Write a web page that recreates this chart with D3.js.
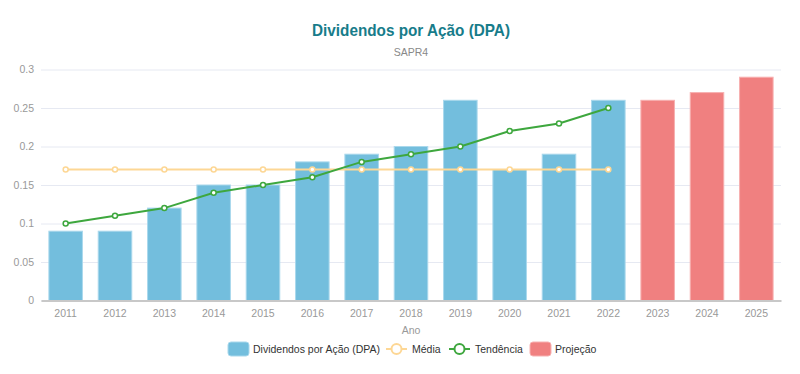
<!DOCTYPE html>
<html>
<head>
<meta charset="utf-8">
<script src="https://cdn.jsdelivr.net/npm/d3@7"></script>
<style>
  body { margin: 0; background: #fff; }
  svg text { font-family: "Liberation Sans", Arial, sans-serif; }
</style>
</head>
<body>
<div id="chart"></div>
<script>
// data
var anos = ["2011","2012","2013","2014","2015","2016","2017","2018","2019","2020","2021","2022","2023","2024","2025"];
var dpa = [0.09, 0.09, 0.12, 0.15, 0.15, 0.18, 0.19, 0.20, 0.26, 0.17, 0.19, 0.26, null, null, null];
var projecao = [null, null, null, null, null, null, null, null, null, null, null, null, 0.26, 0.27, 0.29];
var media = [0.17, 0.17, 0.17, 0.17, 0.17, 0.17, 0.17, 0.17, 0.17, 0.17, 0.17, 0.17];
var tendencia = [0.10, 0.11, 0.12, 0.14, 0.15, 0.16, 0.18, 0.19, 0.20, 0.22, 0.23, 0.25];
var yTicks = [0, 0.05, 0.1, 0.15, 0.2, 0.25, 0.3];

var width = 800, height = 374;
var margin = { top: 70, right: 19, bottom: 73, left: 41 };

var svg = d3.select("#chart").append("svg")
  .attr("width", width)
  .attr("height", height);

var x = d3.scaleBand()
  .domain(anos)
  .range([margin.left, width - margin.right])
  .paddingInner(0.32)
  .paddingOuter(0.16);

var y = d3.scaleLinear()
  .domain([0, 0.3])
  .range([height - margin.bottom - 0.5, margin.top - 0.5]);

// title
svg.append("text")
  .attr("x", 411).attr("y", 36)
  .attr("text-anchor", "middle")
  .attr("textLength", 198).attr("lengthAdjust", "spacingAndGlyphs")
  .style("font-size", "17px").style("font-weight", "bold")
  .style("fill", "#177c8a")
  .text("Dividendos por Ação (DPA)");

svg.append("text")
  .attr("x", 411).attr("y", 56)
  .attr("text-anchor", "middle")
  .style("font-size", "10.5px")
  .style("fill", "#888")
  .text("SAPR4");

// grid + y axis
var yAxis = svg.append("g")
  .attr("transform", "translate(" + margin.left + ",0)")
  .call(d3.axisLeft(y).tickValues(yTicks).tickSize(-(width - margin.left - margin.right)).tickPadding(8).tickFormat(d3.format("")));
yAxis.select(".domain").remove();
yAxis.selectAll(".tick line").attr("stroke", "#e6e9f2");
yAxis.selectAll(".tick text").attr("fill", "#999").style("font-size", "10.5px").attr("x", -7);

// bars
svg.append("g").selectAll("rect")
  .data(anos.filter((d, i) => dpa[i] != null))
  .join("rect")
  .attr("x", d => x(d))
  .attr("y", d => y(dpa[anos.indexOf(d)]))
  .attr("width", x.bandwidth())
  .attr("height", d => y(0) - y(dpa[anos.indexOf(d)]))
  .attr("fill", "#73bedd")
  .attr("stroke", "#a9d8ec")
  .attr("stroke-width", 1);

svg.append("g").selectAll("rect")
  .data(anos.filter((d, i) => projecao[i] != null))
  .join("rect")
  .attr("x", d => x(d))
  .attr("y", d => y(projecao[anos.indexOf(d)]))
  .attr("width", x.bandwidth())
  .attr("height", d => y(0) - y(projecao[anos.indexOf(d)]))
  .attr("fill", "#f08080")
  .attr("stroke", "#f7b0b0")
  .attr("stroke-width", 1);

// x axis
var xAxis = svg.append("g")
  .attr("transform", "translate(0," + y(0) + ")")
  .call(d3.axisBottom(x).tickSize(0).tickPadding(9));
xAxis.select(".domain").attr("stroke", "#c8c8c8").attr("stroke-width", 2);
xAxis.selectAll(".tick text").attr("fill", "#999").style("font-size", "10.5px");

svg.append("text")
  .attr("x", (margin.left + width - margin.right) / 2).attr("y", 334)
  .attr("text-anchor", "middle")
  .style("font-size", "10.5px").style("fill", "#999")
  .text("Ano");

// lines
var cx = d => x(d) + x.bandwidth() / 2;
var line = d3.line().x(d => cx(d[0])).y(d => y(d[1]));

function drawLine(vals, color, fillPt) {
  var pts = vals.map((v, i) => [anos[i], v]);
  svg.append("path")
    .datum(pts)
    .attr("d", line)
    .attr("fill", "none")
    .attr("stroke", color)
    .attr("stroke-width", 2);
  svg.append("g").selectAll("circle")
    .data(pts)
    .join("circle")
    .attr("cx", d => cx(d[0]))
    .attr("cy", d => y(d[1]))
    .attr("r", 2.5)
    .attr("fill", fillPt)
    .attr("stroke", color)
    .attr("stroke-width", 1.5);
}
drawLine(media, "#fdd795", "#fff");
drawLine(tendencia, "#3ea73e", "#fff");

// legend
var lg = svg.append("g").attr("transform", "translate(0,349)");
var items = [
  { type: "rect", color: "#73bedd", border: "#a9d8ec", label: "Dividendos por Ação (DPA)", x: 228, tx: 253 },
  { type: "line", color: "#fdd795", label: "Média", x: 386, tx: 412 },
  { type: "line", color: "#3ea73e", label: "Tendência", x: 449, tx: 475 },
  { type: "rect", color: "#f08080", border: "#f7b0b0", label: "Projeção", x: 530, tx: 555 }
];
items.forEach(function(it) {
  if (it.type == "rect") {
    lg.append("rect")
      .attr("x", it.x).attr("y", -7).attr("width", 21).attr("height", 14).attr("rx", 3)
      .attr("fill", it.color).attr("stroke", it.border);
  } else {
    lg.append("line")
      .attr("x1", it.x).attr("x2", it.x + 21).attr("y1", 0).attr("y2", 0)
      .attr("stroke", it.color).attr("stroke-width", 2);
    lg.append("circle")
      .attr("cx", it.x + 10.5).attr("cy", 0).attr("r", 5)
      .attr("fill", "#fff").attr("stroke", it.color).attr("stroke-width", 2);
  }
  lg.append("text")
    .attr("x", it.tx).attr("y", 4)
    .style("font-size", "10.5px").style("fill", "#333")
    .text(it.label);
});
</script>
</body>
</html>
